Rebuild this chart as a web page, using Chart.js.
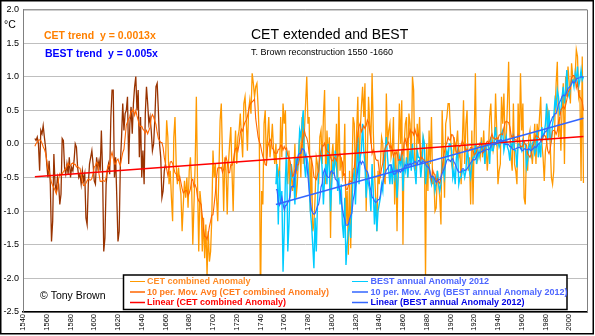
<!DOCTYPE html>
<html>
<head>
<meta charset="utf-8">
<script src="https://cdn.jsdelivr.net/npm/chart.js@4/dist/chart.umd.min.js"></script>
<style>
  html, body { margin: 0; padding: 0; background: #fff; }
  canvas { display: block; }
</style>
</head>
<body>
<canvas id="chart" width="595" height="336"></canvas>
<script>
// CET combined anomaly (T. Brown reconstruction 1550-1660, CET afterwards), one value per year
const cetFirstYear = 1550;
const reconstructionEnd = 1660;
const cetValues = [
  0.08, 0.05, 0.1, 0.0, -0.4, 0.2, 0.15, 0.27, 0.1, -0.05,          // 1550
  -0.3, -0.5, -0.25, -0.6, -1.45, -1.15, -0.15, -0.6, -0.7, -0.5,    // 1560
  -0.6, -0.9, -0.75, 0.08, 0.05, -0.35, -0.45, -0.3, -0.45, -0.2,    // 1570
  -0.5, -0.35, -0.4, -0.25, 0.0, -0.05, -0.35, -0.5, -0.45, -0.6,    // 1580
  -0.4, -0.55, -0.45, -1.1, -1.2, -0.6, -0.3, -0.2, -0.1, -0.3,      // 1590
  -0.55, -0.6, -0.2, -0.35, -0.25, -0.4, 0.2, -0.4, -1.6, -1.4,      // 1600
  -0.6, -0.4, -0.3, -0.45, 0.4, 0.8, 0.8, -0.5, -0.2, -0.8,          // 1610
  -1.45, -1.3, -0.3, 0.1, 0.6, 0.2, 0.45, 0.5, 0.7, -0.3,            // 1620
  0.3, 0.55, 0.15, 0.6, 0.85, 1.0, 0.5, 0.8, -0.2, 0.4,              // 1630
  -0.5, -0.1, -0.6, 0.45, 0.85, 0.6, 0.3, 0.4, 0.2, -0.1,            // 1640
  0.0, 0.35, 0.85, 0.9, 0.5, 0.0, -0.2, -0.8, -0.7, -0.4,            // 1650
  -0.3, 0.35, 0.1, -0.6, -0.4, -0.8, -1.15, 0.1, 0.4, -0.3,          // 1660
  -0.6, -0.35, -0.6, -0.75, -1.3, -0.9, -0.55, -0.8, -0.5, -0.95,    // 1670
  -0.4, -0.2, -0.6, -1.5, -0.9, -0.3, 0.7, -0.6, -1.6, -0.7,         // 1680
  -0.9, -1.6, -1.1, -1.7, -1.2, -1.95, -1.3, -1.75, -1.6, -1.1,      // 1690
  -0.1, -0.5, -0.3, -0.8, -1.15, -0.4, 0.35, 0.6, -0.2, -1.0,        // 1700
  -0.2, -0.4, -1.05, -0.3, 0.0, 0.25, -0.4, -1.0, -0.2, 0.2,         // 1710
  -0.3, 0.1, 0.2, 0.45, 0.1, -0.2, 0.6, 0.7, 0.35, -0.1,             // 1720
  0.5, 0.65, 0.45, 1.05, 0.9, 0.7, 0.85, 0.9, 0.55, 0.1,             // 1730
  -2.4, -0.7, -0.9, 0.3, 0.5, -0.3, 0.1, 0.4, -0.2, 0.0,             // 1740
  0.3, -0.1, -0.3, 0.0, -0.6, -0.4, -0.5, 0.4, -0.2, 0.6,            // 1750
  0.3, 0.5, -0.4, -0.6, -0.1, -0.8, -0.3, -0.7, -0.5, 0.0,           // 1760
  -0.8, -0.6, -0.2, 0.1, -0.5, 0.4, -0.3, 0.2, 0.6, 1.0,             // 1770
  0.3, 0.4, -1.0, -0.2, -1.3, -1.2, -0.8, -0.2, -0.3, -0.6,          // 1780
  0.1, 0.2, -0.3, 0.4, 0.8, -0.6, 0.2, -0.2, 0.1, -1.4,              // 1790
  -0.2, 0.0, -0.4, -0.3, 0.3, -0.6, 0.7, -0.4, -0.2, -0.5,           // 1800
  -0.4, 0.3, -1.2, -0.7, -1.65, -0.4, -1.55, -0.5, 0.4, 0.3,         // 1810
  -0.6, 0.2, 0.7, -0.4, 0.2, 0.55, 0.85, 0.4, 0.9, -1.0,             // 1820
  -0.2, 0.7, 0.3, 0.0, 1.05, 0.2, -0.4, -0.8, -1.3, -0.4,            // 1830
  -0.6, -0.3, 0.1, 0.0, -0.5, -0.6, 0.75, 0.0, 0.2, 0.3,             // 1840
  -0.2, -0.1, 0.4, -0.9, -0.1, -1.3, -0.2, 0.6, 0.0, 0.65,           // 1850
  -1.5, 0.0, 0.3, 0.4, -0.5, 0.45, 0.3, -0.3, 1.0, 0.8,              // 1860
  -0.3, -0.4, 0.3, 0.0, 0.4, -0.3, -0.1, 0.1, 0.0, -2.0,             // 1870
  0.0, -0.7, 0.2, -0.3, 0.4, -0.6, -0.5, -1.0, -0.95, -0.4,          // 1880
  -0.6, -0.8, -1.2, 0.5, -0.1, -0.8, 0.3, 0.4, 0.6, 0.6,             // 1890
  0.2, -0.3, -0.4, 0.1, -0.1, 0.0, 0.2, -0.2, -0.1, -0.6,            // 1900
  0.0, 0.65, -0.3, 0.3, 0.5, -0.4, -0.2, -0.9, 0.2, -0.9,            // 1910
  0.1, 1.05, -0.3, -0.2, -0.1, -0.2, 0.1, -0.2, 0.2, -0.3,           // 1920
  0.0, -0.4, -0.1, 0.4, 0.6, 0.1, -0.1, 0.0, 0.75, 0.2,              // 1930
  -0.6, -0.4, -0.3, 0.7, 0.3, 0.75, 0.0, 0.1, 0.6, 1.22,             // 1940
  0.2, -0.2, -0.4, 0.6, -0.3, -0.4, -0.6, 0.6, 0.0, 1.05,            // 1950
  0.2, 0.6, -0.8, -0.9, -0.1, -0.4, 0.1, 0.2, -0.1, -0.3,            // 1960
  0.0, 0.3, -0.3, 0.3, 0.1, 0.4, 0.7, 0.0, -0.2, -0.55,              // 1970
  -0.1, 0.0, 0.5, 0.4, 0.0, -0.5, -0.6, -0.4, 0.4, 0.9,              // 1980
  1.22, 0.1, 0.4, -0.1, 0.5, 0.9, -0.3, 1.0, 0.7, 1.15,              // 1990
  0.9, 0.6, 1.2, 1.0, 0.9, 1.0, 1.4, 1.3, 0.7, 0.8,                  // 2000
  -0.55, 1.3, -0.58                                                  // 2010
];

// BEST annual land anomaly 2012 release
const bestFirstYear = 1753;
const bestValues = [
  -0.6, -0.3, -1.2, -0.4, -0.9, -0.7, -1.9,                          // 1753
  -1.3, -0.5, -0.1, -1.6, -1.2, -0.6, -0.3, -0.5, -0.5, -0.9,        // 1760
  -0.2, -0.4, -0.2, 0.2, 0.1, 0.3, 0.5, -0.3, -0.5, -0.2,            // 1770
  -0.3, -0.6, -1.0, -1.2, -1.5, -1.85, -1.1, -1.6, -0.9, -0.4,       // 1780
  -0.2, -0.1, -0.4, -0.9, -0.5, -0.3, -0.6, 0.0, -0.4, -1.0,         // 1790
  -0.6, -0.3, -0.4, -0.1, -0.3, -0.7, -0.5, -0.9, -0.6, -1.2,        // 1800
  -1.4, -0.8, -1.8, -1.5, -1.3, -1.2, -1.4, -0.9, -0.5, -0.4,        // 1810
  -0.9, -0.4, 0.1, -0.6, -0.2, -0.1, 0.3, -0.1, -0.3, -0.8,          // 1820
  -0.5, -0.6, -0.7, -1.0, -0.3, -0.7, -1.2, -0.8, -1.3, -1.0,        // 1830
  -0.9, -0.8, -0.6, -0.7, -0.3, -0.1, 0.1, -0.2, -0.4, -0.6,         // 1840
  -0.3, -0.6, -0.2, -0.5, -0.4, -0.8, -0.5, -0.2, -0.3, -0.1,        // 1850
  -0.7, -0.3, -0.4, -0.2, -0.5, -0.3, -0.1, -0.4, 0.0, -0.3,         // 1860
  -0.4, -0.6, -0.1, -0.2, -0.2, -0.5, -0.3, 0.1, 0.0, -0.6,          // 1870
  -0.4, -0.3, -0.3, -0.5, -0.6, -0.5, -0.5, -0.7, -0.6, -0.4,        // 1880
  -0.6, -0.7, -0.6, -0.3, -0.4, -0.5, -0.2, -0.1, -0.2, 0.0,         // 1890
  0.0, -0.1, -0.5, -0.4, -0.6, -0.2, -0.1, -0.6, -0.5, -0.5,         // 1900
  -0.4, -0.4, -0.5, -0.4, -0.1, -0.2, -0.4, -0.5, -0.3, -0.2,        // 1910
  -0.2, 0.0, -0.3, -0.1, -0.2, -0.1, 0.0, -0.1, -0.05, -0.3,         // 1920
  0.0, 0.0, -0.05, -0.3, 0.1, -0.1, -0.1, 0.1, 0.25, 0.0,            // 1930
  0.05, -0.05, 0.0, 0.15, 0.2, -0.1, 0.0, 0.1, -0.05, -0.1,          // 1940
  -0.25, 0.0, -0.05, 0.15, -0.1, -0.1, -0.35, 0.0, 0.0, -0.05,       // 1950
  -0.1, 0.05, 0.0, 0.0, -0.35, -0.25, -0.05, 0.0, -0.15, 0.0,        // 1960
  0.05, -0.15, -0.1, 0.2, -0.2, 0.0, -0.2, 0.25, 0.1, 0.15,          // 1970
  0.3, 0.6, 0.05, 0.5, 0.1, 0.05, 0.3, 0.4, 0.65, 0.55,              // 1980
  0.8, 0.7, 0.45, 0.5, 0.7, 0.85, 0.6, 0.8, 1.1, 0.75,               // 1990
  0.7, 0.85, 0.95, 0.95, 0.85, 1.05, 0.95, 1.15, 0.85, 0.95,         // 2000
  1.1, 0.95, 1.0                                                     // 2010
];

// linear trend end points as drawn
const cetTrendYears = [1550, 2012];
const cetTrendValues = [-0.49, 0.11];
const bestTrendYears = [1753, 2012];
const bestTrendValues = [-0.9, 0.38];

const xTickYears = [1540, 1560, 1580, 1600, 1620, 1640, 1660, 1680, 1700, 1720, 1740, 1760,
  1780, 1800, 1820, 1840, 1860, 1880, 1900, 1920, 1940, 1960, 1980, 2000];
const yTickValues = [-2.5, -2.0, -1.5, -1.0, -0.5, 0.0, 0.5, 1.0, 1.5, 2.0];

const legendLabels = [
  "CET combined Anomaly",
  "10 per. Mov. Avg (CET combined Anomaly)",
  "Linear (CET combined Anomaly)",
  "BEST annual Anomaly 2012",
  "10 per. Mov. Avg (BEST annual Anomaly 2012)",
  "Linear (BEST annual Anomaly 2012)"
];

const FONT = "Arial, 'Liberation Sans', sans-serif";
const BROWN = "#993300";
const ORANGE = "#FF9900";
const CET_AVG = "#FF6600";
const RED = "#FF0000";
const SKY = "#00CCFF";
const BLUE = "#3366FF";

function movingAverage(values, period) {
  const half = Math.floor(period / 2);
  return values.map((_, i) => {
    const from = Math.max(0, i - half);
    const to = Math.min(values.length, i - half + period);
    let sum = 0;
    for (let k = from; k < to; k++) sum += values[k];
    return sum / (to - from);
  });
}

const toPoints = (firstYear, vals) => vals.map((v, i) => ({ x: firstYear + i, y: v }));
const pairPoints = (xs, ys) => xs.map((x, i) => ({ x: x, y: ys[i] }));

const decor = {
  id: "decor",
  afterDraw(chart) {
    const c = chart.ctx;
    const a = chart.chartArea;
    c.save();

    // grey frame of the plot area
    c.strokeStyle = "#808080";
    c.lineWidth = 1;
    c.beginPath();
    c.moveTo(a.left, a.top + 0.5);
    c.lineTo(a.right + 0.5, a.top + 0.5);
    c.lineTo(a.right + 0.5, a.bottom);
    c.stroke();

    // outer black frame
    c.strokeStyle = "#000";
    c.lineWidth = 1.5;
    c.strokeRect(0.75, 0.75, 592.5, 333);

    c.textBaseline = "alphabetic";
    c.textAlign = "left";

    c.fillStyle = "#000";
    c.font = "10.5px " + FONT;
    c.fillText("\u00B0C", 4, 28);

    c.font = "14px " + FONT;
    c.fillText("CET extended and BEST", 251, 38.5);
    c.font = "9px " + FONT;
    c.fillText("T. Brown reconstruction 1550 -1660", 251, 54.5);

    c.font = "bold 10.5px " + FONT;
    c.fillStyle = "#FF8000";
    c.fillText("CET trend  y = 0.0013x", 44, 38.5);
    c.fillStyle = "#0000FF";
    c.fillText("BEST trend  y = 0.005x", 45, 56.5);

    c.fillStyle = "#000";
    c.font = "10.5px " + FONT;
    c.fillText("\u00A9 Tony Brown", 40, 299);

    // legend box
    c.fillStyle = "#fff";
    c.fillRect(123.5, 275, 443.5, 34.5);
    c.strokeStyle = "#000";
    c.lineWidth = 1.5;
    c.strokeRect(123.5, 275, 443.5, 34.5);

    const rows = [281.5, 292, 302.5];
    const cols = [{ x0: 130, x1: 145, tx: 147 }, { x0: 352, x1: 368, tx: 370.5 }];
    const lineColors = [ORANGE, CET_AVG, RED, SKY, BLUE, BLUE];
    const textColors = ["#FF8C26", "#FF7A1A", "#FF0000", "#4D66FF", "#4D66FF", "#0000E6"];
    const widths = [1, 1.5, 1.5, 1, 1.5, 1.5];
    c.font = "bold 9px " + FONT;
    c.textBaseline = "middle";
    legendLabels.forEach((label, i) => {
      const col = cols[Math.floor(i / 3)];
      const y = rows[i % 3];
      c.strokeStyle = lineColors[i];
      c.lineWidth = widths[i];
      c.beginPath();
      c.moveTo(col.x0, y);
      c.lineTo(col.x1, y);
      c.stroke();
      c.fillStyle = textColors[i];
      c.fillText(label, col.tx, y + 0.5);
    });

    c.restore();
  }
};

new Chart(document.getElementById("chart").getContext("2d"), {
  type: "line",
  data: {
    datasets: [
      {
        label: legendLabels[5],
        data: pairPoints(bestTrendYears, bestTrendValues),
        borderColor: BLUE,
        borderWidth: 1.5
      },
      {
        label: legendLabels[2],
        data: pairPoints(cetTrendYears, cetTrendValues),
        borderColor: RED,
        borderWidth: 1.5
      },
      {
        label: legendLabels[4],
        data: toPoints(bestFirstYear, movingAverage(bestValues, 10)),
        borderColor: BLUE,
        borderWidth: 1.2
      },
      {
        label: legendLabels[1],
        data: toPoints(cetFirstYear, movingAverage(cetValues, 10)),
        borderColor: CET_AVG,
        borderWidth: 1.1
      },
      {
        label: legendLabels[3],
        data: toPoints(bestFirstYear, bestValues),
        borderColor: SKY,
        borderWidth: 1.4
      },
      {
        label: legendLabels[0],
        data: toPoints(cetFirstYear, cetValues),
        borderColor: ORANGE,
        borderWidth: 1.3,
        segment: {
          borderColor: (s) => (s.p1.parsed.x <= reconstructionEnd ? BROWN : ORANGE)
        }
      }
    ]
  },
  options: {
    responsive: false,
    animation: false,
    devicePixelRatio: 1,
    elements: { point: { radius: 0 }, line: { tension: 0, borderJoinStyle: "miter" } },
    layout: { padding: { top: 9, right: 8, left: 0, bottom: 0 } },
    plugins: { legend: { display: false }, tooltip: { enabled: false } },
    scales: {
      x: {
        type: "linear",
        min: 1540,
        max: 2015,
        afterBuildTicks: (s) => { s.ticks = xTickYears.map((v) => ({ value: v })); },
        afterFit: (s) => { s.height = 24; },
        grid: { display: false, drawTicks: false },
        border: { color: "#000", width: 1.5 },
        ticks: {
          minRotation: 90,
          maxRotation: 90,
          autoSkip: false,
          padding: 2,
          color: "#000",
          font: { size: 7.5, family: FONT },
          callback: (v) => String(v)
        }
      },
      y: {
        min: -2.5,
        max: 2,
        afterBuildTicks: (s) => { s.ticks = yTickValues.map((v) => ({ value: v })); },
        afterFit: (s) => { s.width = 23; },
        grid: { color: "#BFBFBF", drawTicks: false },
        border: { color: "#808080" },
        ticks: {
          padding: 4,
          color: "#000",
          font: { size: 9, family: FONT },
          callback: (v) => Number(v).toFixed(1)
        }
      }
    }
  },
  plugins: [decor]
});
</script>
</body>
</html>
